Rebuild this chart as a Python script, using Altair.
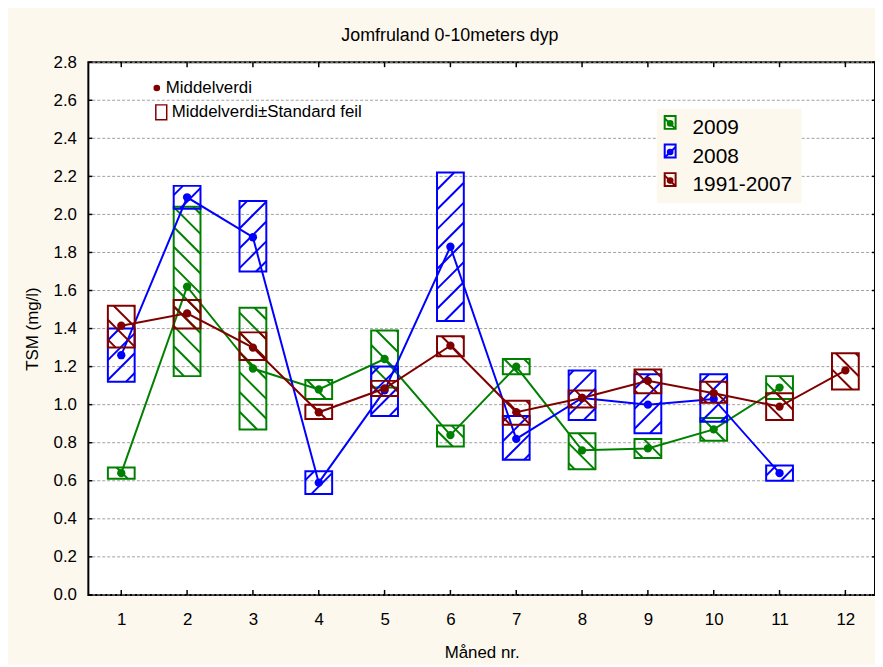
import math
import altair as alt
import pandas as pd

# ---------------- data ----------------
months = list(range(1, 13))
series = ["2009", "2008", "1991-2007"]
colors = ["#008000", "#0000ff", "#800000"]
hatch_dirs = ["\\", "/", "\\"]

months_2009 = [1, 2, 3, 4, 5, 6, 7, 8, 9, 10, 11]
mean_2009 = [0.64, 1.62, 1.19, 1.08, 1.24, 0.84, 1.20, 0.76, 0.77, 0.87, 1.09]
lo_2009 = [0.61, 1.15, 0.87, 1.03, 1.09, 0.78, 1.16, 0.66, 0.72, 0.81, 1.03]
hi_2009 = [0.67, 2.04, 1.51, 1.13, 1.39, 0.89, 1.24, 0.85, 0.82, 0.93, 1.15]

months_2008 = [1, 2, 3, 4, 5, 6, 7, 8, 9, 10, 11]
mean_2008 = [1.26, 2.09, 1.88, 0.59, 1.075, 1.83, 0.82, 1.035, 1.00, 1.03, 0.64]
lo_2008 = [1.12, 2.03, 1.70, 0.53, 0.94, 1.44, 0.71, 0.92, 0.85, 0.91, 0.60]
hi_2008 = [1.40, 2.15, 2.07, 0.65, 1.20, 2.22, 0.94, 1.18, 1.16, 1.16, 0.68]

months_hist = [1, 2, 3, 4, 5, 6, 7, 8, 9, 10, 11, 12]
mean_hist = [1.415, 1.48, 1.30, 0.96, 1.085, 1.31, 0.96, 1.035, 1.125, 1.06, 0.99, 1.18]
lo_hist = [1.30, 1.40, 1.235, 0.925, 1.045, 1.255, 0.895, 0.985, 1.06, 1.01, 0.92, 1.08]
hi_hist = [1.52, 1.55, 1.38, 1.00, 1.125, 1.36, 1.02, 1.075, 1.185, 1.12, 1.06, 1.27]

y_ticks = [0.0, 0.2, 0.4, 0.6, 0.8, 1.0, 1.2, 1.4, 1.6, 1.8, 2.0, 2.2, 2.4, 2.6, 2.8]

title_text = "Jomfruland 0-10meters dyp"
x_title = "Måned nr."
y_title = "TSM (mg/l)"
legend1_mean = "Middelverdi"
legend1_se = "Middelverdi±Standard feil"

# ---------------- layout ----------------
W, H = 793, 537
XMIN, XMAX = 0.5, 12.45
YMIN, YMAX = 0.0, 2.8
SX = W / (XMAX - XMIN)
SY = H / (YMAX - YMIN)
BOX_PX = 27
HATCH_PX = 20
FONT = "Liberation Sans"
BG = "#fdf8ee"

xscale = alt.Scale(domain=[XMIN, XMAX], nice=False, zero=False)
yscale = alt.Scale(domain=[YMIN, YMAX], nice=False, zero=False)

all_data = [
    (months_2009, mean_2009, lo_2009, hi_2009),
    (months_2008, mean_2008, lo_2008, hi_2008),
    (months_hist, mean_hist, lo_hist, hi_hist),
]


def box_frame(ms, mean, lo, hi):
    df = pd.DataFrame({"month": ms, "mean": mean, "lo": lo, "hi": hi})
    df["x1"] = df["month"] - BOX_PX / 2 / SX
    df["x2"] = df["month"] + BOX_PX / 2 / SX
    return df


def hatch_frame(df, direction):
    segs = []
    for _, r in df.iterrows():
        xl = (r.x1 - XMIN) * SX
        xr = (r.x2 - XMIN) * SX
        yt = (YMAX - r.hi) * SY
        yb = (YMAX - r.lo) * SY
        if direction == "/":
            c = math.ceil((xl + yt) / HATCH_PX) * HATCH_PX
            while c <= xr + yb:
                a = max(xl, c - yb)
                b = min(xr, c - yt)
                if b - a > 1:
                    segs.append((a, c - a, b, c - b))
                c += HATCH_PX
        else:
            c = math.ceil((yt - xr) / HATCH_PX) * HATCH_PX
            while c <= yb - xl:
                a = max(xl, yt - c)
                b = min(xr, yb - c)
                if b - a > 1:
                    segs.append((a, a + c, b, b + c))
                c += HATCH_PX
    return pd.DataFrame(
        [
            {
                "hx1": XMIN + p[0] / SX,
                "hy1": YMAX - p[1] / SY,
                "hx2": XMIN + p[2] / SX,
                "hy2": YMAX - p[3] / SY,
            }
            for p in segs
        ]
    )


x_axis = alt.Axis(
    values=months, format="d", title=x_title, grid=False, domain=False, ticks=False,
    labelPadding=17, titlePadding=17, labelFontSize=17, titleFontSize=17,
    labelColor="black", titleColor="black", titleFontWeight="normal",
    labelOverlap=False,
)
y_axis = alt.Axis(
    values=y_ticks, format=".1f", title=y_title, grid=False, domain=False, ticks=False,
    labelPadding=12, titlePadding=12, labelFontSize=17, titleFontSize=17,
    labelColor="black", titleColor="black", titleFontWeight="normal",
    labelOverlap=False, tickCount=15,
)


def X(field):
    return alt.X(field, scale=xscale, axis=x_axis, title=x_title)


def Y(field):
    return alt.Y(field, scale=yscale, axis=y_axis, title=y_title)


mdf = pd.DataFrame({"month": months})
ydf = pd.DataFrame({"v": y_ticks})

# dashed horizontal grid
grid = alt.Chart(ydf).mark_rule(
    color="#a0a0a0", strokeWidth=1, strokeDash=[3, 2], opacity=1
).encode(y=Y("v:Q"), x=alt.value(4), x2=alt.value(W - 3))

layers = [grid]
for (ms, mean, lo, hi), color, hd in zip(all_data, colors, hatch_dirs):
    df = box_frame(ms, mean, lo, hi)
    hdf = hatch_frame(df, hd)
    boxes = alt.Chart(df).mark_rect(
        fill="transparent", stroke=color, strokeWidth=2
    ).encode(x=X("x1:Q"), x2="x2:Q", y=Y("lo:Q"), y2="hi:Q")
    hatch = alt.Chart(hdf).mark_rule(color=color, strokeWidth=2).encode(
        x=X("hx1:Q"), x2="hx2:Q", y=Y("hy1:Q"), y2="hy2:Q"
    )
    line = alt.Chart(df).mark_line(color=color, strokeWidth=2).encode(
        x=X("month:Q"), y=Y("mean:Q")
    )
    pts = alt.Chart(df).mark_circle(color=color, size=70, opacity=1).encode(
        x=X("month:Q"), y=Y("mean:Q")
    )
    layers += [boxes, hatch, line, pts]

# inner ticks on the frame
tick_bottom = alt.Chart(mdf).mark_rule(color="black", strokeWidth=1.5).encode(
    x=X("month:Q"), y=alt.value(H), y2=alt.value(H - 5)
)
tick_top = alt.Chart(mdf).mark_rule(color="black", strokeWidth=1.5).encode(
    x=X("month:Q"), y=alt.value(0), y2=alt.value(5)
)
tick_left = alt.Chart(ydf).mark_rule(color="black", strokeWidth=1.5).encode(
    y=Y("v:Q"), x=alt.value(0), x2=alt.value(4)
)
tick_right = alt.Chart(ydf).mark_rule(color="black", strokeWidth=1.5).encode(
    y=Y("v:Q"), x=alt.value(W - 3), x2=alt.value(W)
)
layers += [tick_bottom, tick_top, tick_left, tick_right]

one = pd.DataFrame({"a": [0]})
red = colors[2]

# legend 1 (top left)
leg1 = [
    alt.Chart(one).mark_circle(color=red, size=45, opacity=1).encode(
        x=alt.value(69), y=alt.value(26)
    ),
    alt.Chart(one).mark_text(
        text=legend1_mean, align="left", baseline="middle", fontSize=17, font=FONT, color="black"
    ).encode(x=alt.value(78), y=alt.value(26)),
    alt.Chart(one).mark_rect(fill="transparent", stroke=red, strokeWidth=1.5).encode(
        x=alt.value(68), x2=alt.value(79), y=alt.value(43), y2=alt.value(58)
    ),
    alt.Chart(one).mark_text(
        text=legend1_se, align="left", baseline="middle", fontSize=17, font=FONT, color="black"
    ).encode(x=alt.value(84), y=alt.value(50)),
]
layers += leg1

# legend 2 (series)
leg2 = [
    alt.Chart(one).mark_rect(fill=BG, stroke=None).encode(
        x=alt.value(573), x2=alt.value(719), y=alt.value(47), y2=alt.value(142)
    )
]
for i, (name, color, hd) in enumerate(zip(series, colors, hatch_dirs)):
    cy = 60.7 + i * 28.8
    leg2.append(
        alt.Chart(one).mark_rect(fill="transparent", stroke=color, strokeWidth=2).encode(
            x=alt.value(581), x2=alt.value(592), y=alt.value(cy - 6.5), y2=alt.value(cy + 6.5)
        )
    )
    if hd == "/":
        ys = (cy + 6.5, cy - 4)
    else:
        ys = (cy - 4, cy + 6.5)
    leg2.append(
        alt.Chart(one).mark_rule(color=color, strokeWidth=2).encode(
            x=alt.value(581), x2=alt.value(592), y=alt.value(ys[0]), y2=alt.value(ys[1])
        )
    )
    leg2.append(
        alt.Chart(one).mark_circle(color=color, size=45, opacity=1).encode(
            x=alt.value(586.5), y=alt.value(cy + 1)
        )
    )
    leg2.append(
        alt.Chart(one).mark_text(
            text=name, align="left", baseline="middle", fontSize=21, font=FONT, color="black"
        ).encode(x=alt.value(609), y=alt.value(cy + 6))
    )
layers += leg2

chart = (
    alt.layer(*layers)
    .properties(
        width=W,
        height=H,
        autosize=alt.AutoSizeParams(type="none"),
        padding={"left": 81, "top": 52, "right": 0, "bottom": 68},
        background=BG,
        title=alt.TitleParams(
            text=title_text, fontSize=18, font=FONT, fontWeight="normal",
            color="black", anchor="middle", frame="group", dx=-32, offset=8,
        ),
    )
    .configure_view(fill="white", stroke="black", strokeWidth=2)
    .configure_axis(labelFont=FONT, titleFont=FONT)
)

chart.save("out.html", embed_options={"renderer": "svg", "actions": False})
